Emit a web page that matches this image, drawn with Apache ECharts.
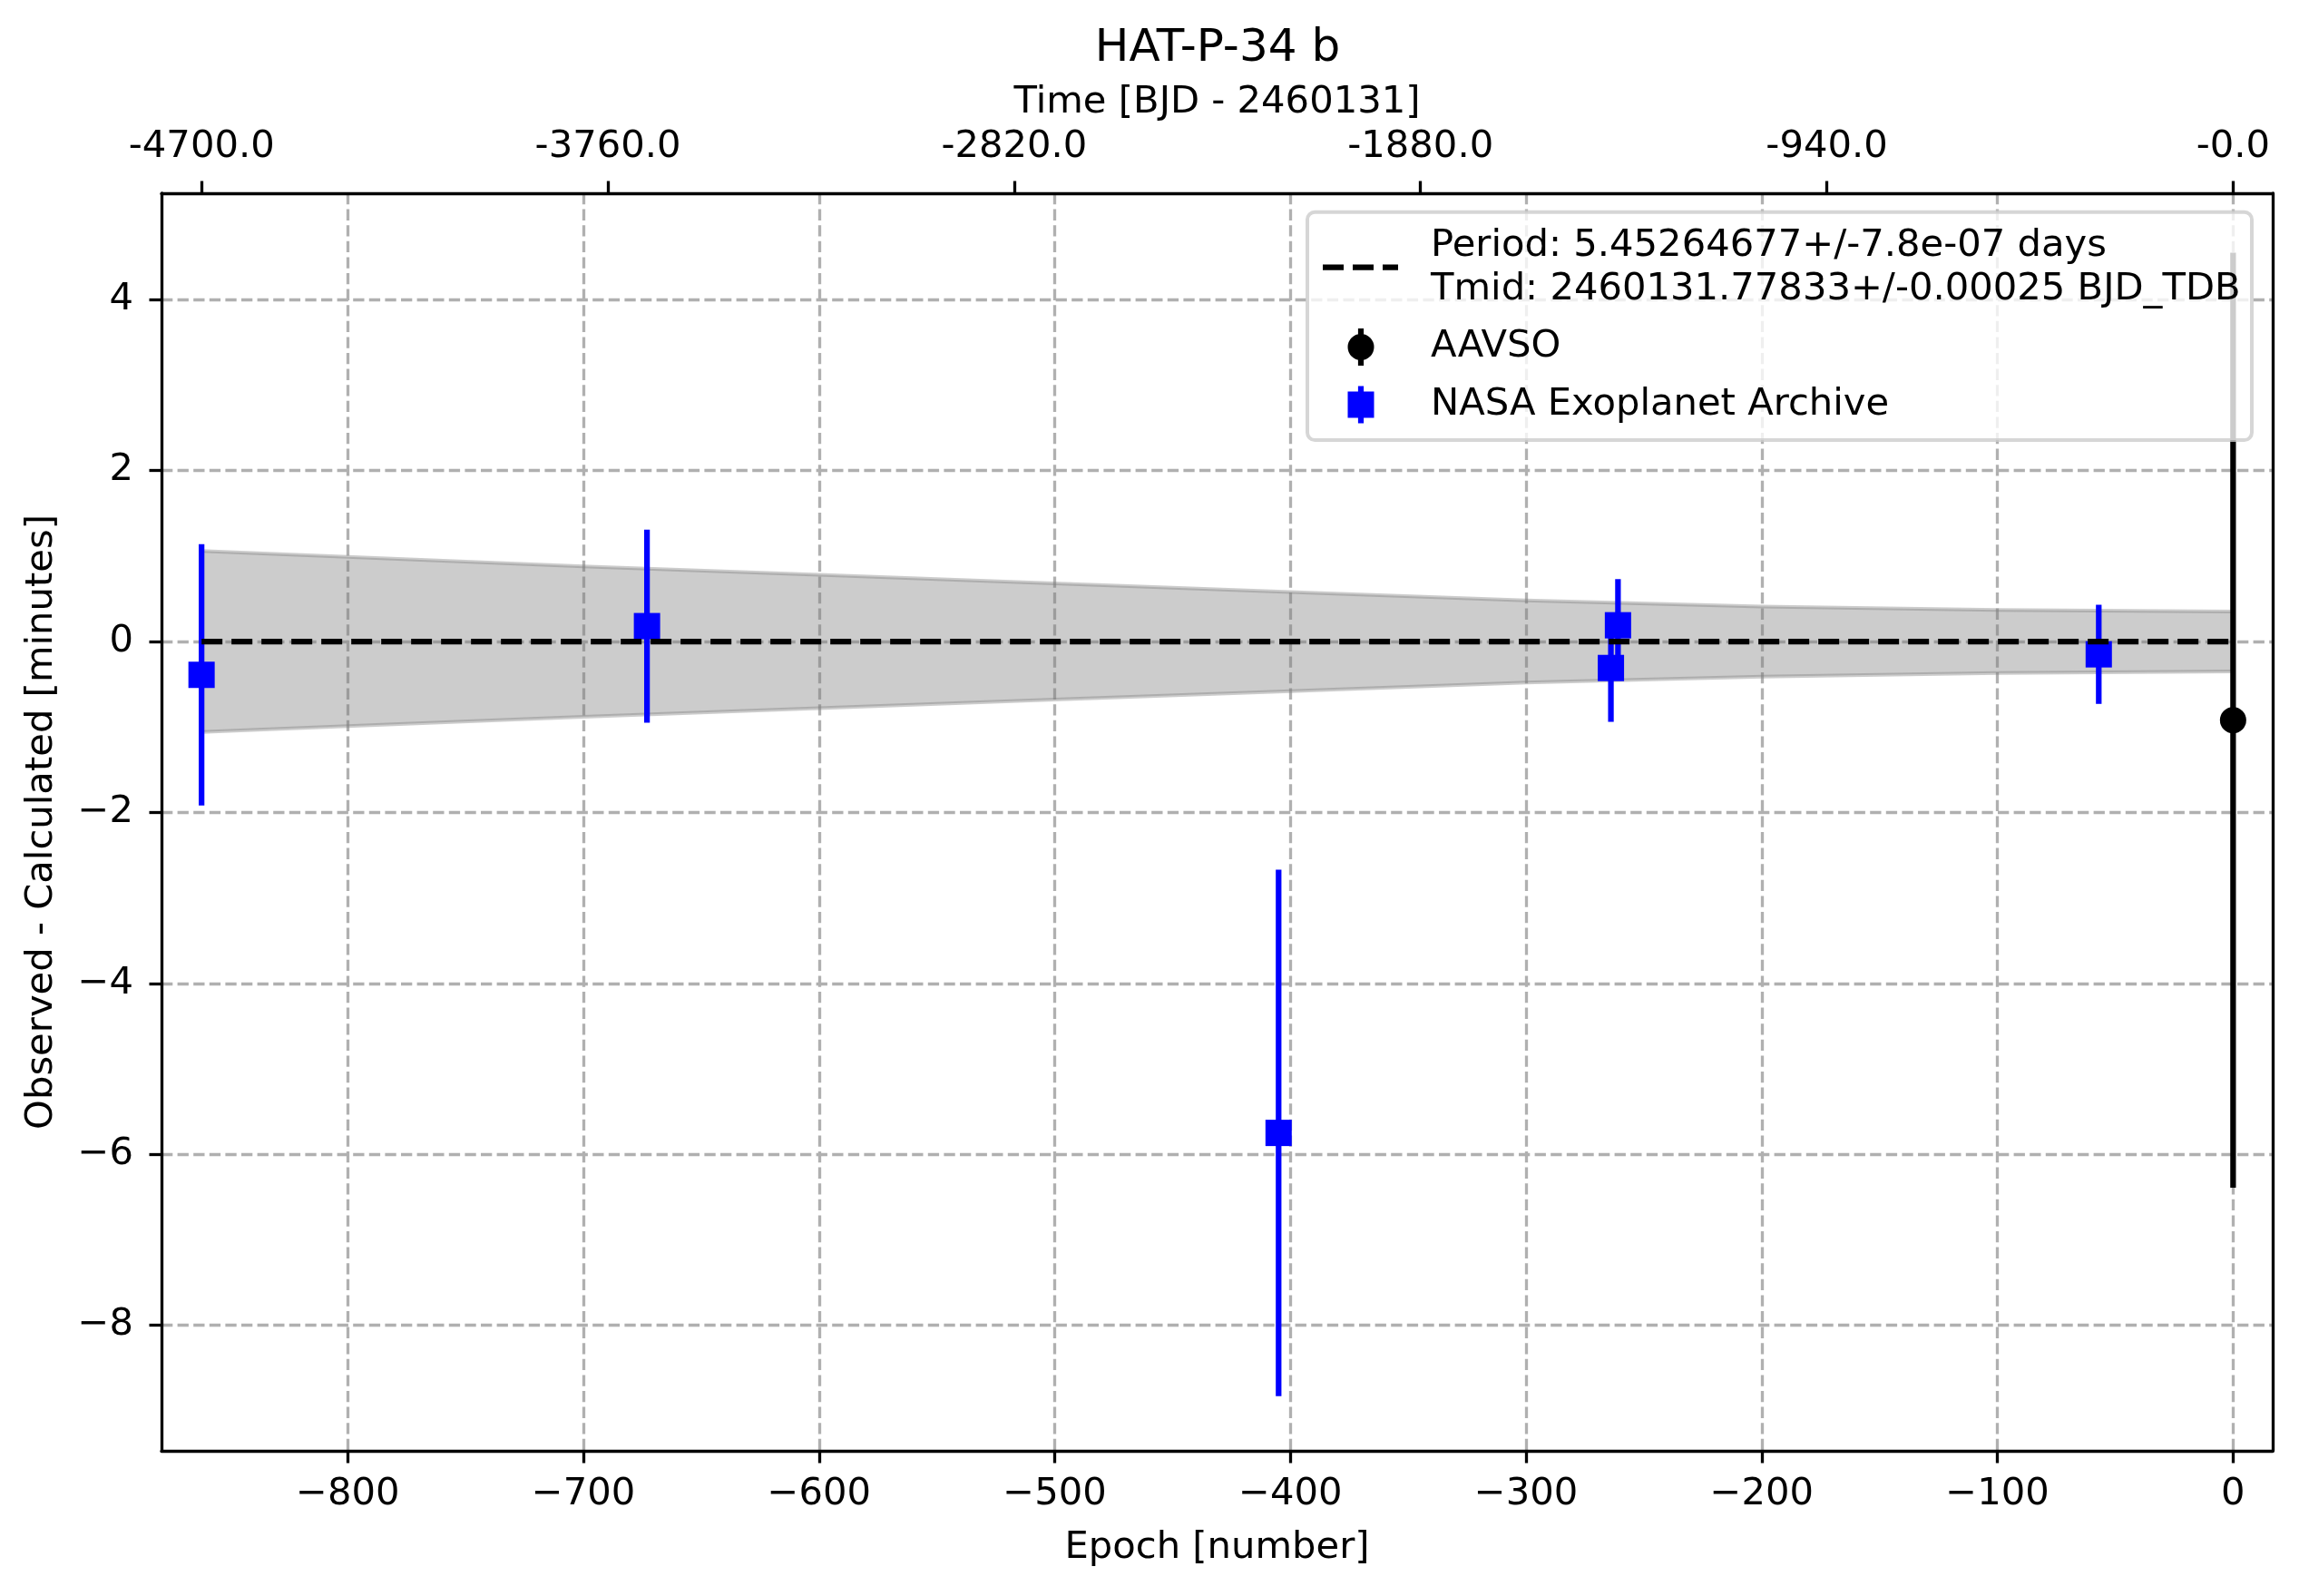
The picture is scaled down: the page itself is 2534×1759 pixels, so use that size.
<!DOCTYPE html>
<html>
<head>
<meta charset="utf-8">
<title>HAT-P-34 b O-C</title>
<script src="https://cdn.jsdelivr.net/npm/echarts@6/dist/echarts.min.js"></script>
<style>
  html, body { margin: 0; padding: 0; background: #fff; }
  #chart { width: 2534px; height: 1759px; }
</style>
</head>
<body>
<div id="chart"></div>
<script>
// ticks of the three axes
const epochTicks = [-800, -700, -600, -500, -400, -300, -200, -100, 0];
const epochTickLabels = ['\u2212800', '\u2212700', '\u2212600', '\u2212500', '\u2212400', '\u2212300', '\u2212200', '\u2212100', '0'];
const timeTicks = [-4700, -3760, -2820, -1880, -940, 0];
const timeTickLabels = ['-4700.0', '-3760.0', '-2820.0', '-1880.0', '-940.0', '-0.0'];
const ocTicks = [-8, -6, -4, -2, 0, 2, 4];
const ocTickLabels = ['\u22128', '\u22126', '\u22124', '\u22122', '0', '2', '4'];

// fit
const period = 5.45264677;
const fitLabel = 'Period: 5.45264677+/-7.8e-07 days\nTmid: 2460131.77833+/-0.00025 BJD_TDB';
const zeroEpochs = [-862, 0];
const zeroValues = [0, 0];

// uncertainty band (minutes)
const bandEpochs = [-862, -800, -700, -600, -500, -400, -300, -200, -100, 0];
const bandUpper = [1.06, 0.99, 0.88, 0.78, 0.68, 0.58, 0.48, 0.41, 0.37, 0.35];
const bandLower = [-1.06, -0.99, -0.88, -0.78, -0.68, -0.58, -0.48, -0.41, -0.37, -0.35];

// observations
const nasaEpochs = [-862, -673, -405, -264, -261, -57];
const nasaOC = [-0.39, 0.18, -5.75, -0.31, 0.19, -0.15];
const nasaErr = [1.53, 1.13, 3.08, 0.63, 0.54, 0.58];

const aavsoEpochs = [0];
const aavsoOC = [-0.92];
const aavsoErr = [5.47];

const xMin = -879, xMax = 16.8;
const yMin = -9.47, yMax = 5.245;

const FONT = 'DejaVu Sans';
const FS = 41.7;

function errorBarRenderer(color) {
  return function (params, api) {
    const x = api.value(0), y = api.value(1), e = api.value(2);
    const top = api.coord([x, y + e]);
    const bot = api.coord([x, y - e]);
    return {
      type: 'line',
      shape: { x1: top[0], y1: top[1], x2: bot[0], y2: bot[1] },
      style: { stroke: color, lineWidth: 6.25 }
    };
  };
}

function bandRenderer(params, api) {
  if (params.dataIndex !== 0) return null;
  const up = bandEpochs.map((e, i) => api.coord([e, bandUpper[i]]));
  const lo = bandEpochs.map((e, i) => api.coord([e, bandLower[i]]));
  const poly = up.concat(lo.slice().reverse());
  return {
    type: 'group',
    children: [
      { type: 'polygon', shape: { points: poly }, style: { fill: 'rgba(128,128,128,0.4)', stroke: null } },
      { type: 'polyline', shape: { points: up }, style: { stroke: 'rgba(128,128,128,0.4)', lineWidth: 4, fill: null } },
      { type: 'polyline', shape: { points: lo }, style: { stroke: 'rgba(128,128,128,0.4)', lineWidth: 4, fill: null } }
    ]
  };
}

const zeroData = zeroEpochs.map((e, i) => [e, zeroValues[i]]);
const bandData = bandEpochs.map((e, i) => [e, bandLower[i], bandUpper[i]]);
const nasaData = nasaEpochs.map((e, i) => [e, nasaOC[i], nasaErr[i]]);
const aavsoData = aavsoEpochs.map((e, i) => [e, aavsoOC[i], aavsoErr[i]]);

const axisLine = { show: true, onZero: false, lineStyle: { color: '#000', width: 3.3 } };
const axisTick = { show: true, inside: false, length: 13.5, lineStyle: { color: '#000', width: 3.3 } };
const gridLine = { show: true, lineStyle: { color: '#b0b0b0', width: 3.3, type: [12.3, 5.3] } };

// legend icons (path boxes match itemWidth x itemHeight)
const dashIcon = 'path://M0 0L23 0L23 6.25L0 6.25Z M33 0L56 0L56 6.25L33 6.25Z M66 0L83 0L83 6.25L66 6.25Z';
const circleBarIcon = 'path://M0 20.5A14.5 14.5 0 1 1 29 20.5A14.5 14.5 0 1 1 0 20.5Z M11.4 0L17.6 0L17.6 41L11.4 41Z';
const squareBarIcon = 'path://M0 6L29 6L29 35L0 35Z M11.4 0L17.6 0L17.6 41L11.4 41Z';

const legendText = { fontFamily: FONT, fontSize: FS, color: '#000', lineHeight: 48 };

const chart = echarts.init(document.getElementById('chart'), null, { renderer: 'canvas' });

const option = {
  animation: false,
  backgroundColor: '#fff',
  textStyle: { fontFamily: FONT },
  title: {
    text: 'HAT-P-34 b',
    left: 1342,
    top: 29,
    padding: 0,
    textAlign: 'center',
    textStyle: { fontFamily: FONT, fontSize: 50, fontWeight: 'normal', color: '#000' }
  },
  grid: { left: 178, right: 29, top: 213, bottom: 160, containLabel: false, outerBoundsMode: 'none' },
  xAxis: [
    {
      type: 'value', position: 'bottom', min: xMin, max: xMax,
      axisLine: axisLine,
      axisTick: Object.assign({ customValues: epochTicks }, axisTick),
      axisLabel: {
        customValues: epochTicks, margin: 27, fontFamily: FONT, fontSize: FS, color: '#000',
        formatter: v => epochTickLabels[epochTicks.indexOf(v)]
      },
      splitLine: gridLine,
      name: 'Epoch [number]', nameLocation: 'middle', nameGap: 86,
      nameTextStyle: { fontFamily: FONT, fontSize: FS, color: '#000' }
    },
    {
      type: 'value', position: 'top', min: xMin * period, max: xMax * period,
      axisLine: axisLine,
      axisTick: Object.assign({ customValues: timeTicks }, axisTick),
      axisLabel: {
        customValues: timeTicks, margin: 30, fontFamily: FONT, fontSize: FS, color: '#000',
        formatter: v => timeTickLabels[timeTicks.indexOf(v)]
      },
      splitLine: { show: false },
      name: 'Time [BJD - 2460131]', nameLocation: 'middle', nameGap: 79,
      nameTextStyle: { fontFamily: FONT, fontSize: FS, color: '#000' }
    }
  ],
  yAxis: [
    {
      type: 'value', position: 'left', min: yMin, max: yMax,
      axisLine: axisLine,
      axisTick: Object.assign({ customValues: ocTicks }, axisTick),
      axisLabel: {
        customValues: ocTicks, margin: 31, fontFamily: FONT, fontSize: FS, color: '#000',
        formatter: v => ocTickLabels[ocTicks.indexOf(v)]
      },
      splitLine: gridLine,
      name: 'Observed - Calculated [minutes]', nameLocation: 'middle', nameGap: 111,
      nameTextStyle: { fontFamily: FONT, fontSize: FS, color: '#000' }
    },
    {
      type: 'value', position: 'right', min: yMin, max: yMax,
      axisLine: axisLine,
      axisTick: { show: false },
      axisLabel: { show: false },
      splitLine: { show: false }
    }
  ],
  legend: [
    {
      z: 10, left: 1458, top: 246.7, padding: 0, selectedMode: false, orient: 'vertical',
      itemWidth: 83, itemHeight: 6.25,
      textStyle: Object.assign({ padding: [0, 0, 0, 31] }, legendText),
      data: [{ name: fitLabel, icon: dashIcon, itemStyle: { color: '#000', borderWidth: 0 } }]
    },
    {
      z: 10, left: 1485.5, top: 358.5, padding: 0, selectedMode: false, orient: 'vertical',
      itemWidth: 29, itemHeight: 41,
      textStyle: Object.assign({ padding: [0, 0, 0, 57.5] }, legendText),
      data: [{ name: 'AAVSO', icon: circleBarIcon, itemStyle: { color: '#000', borderWidth: 0 } }]
    },
    {
      z: 10, left: 1485.5, top: 422, padding: 0, selectedMode: false, orient: 'vertical',
      itemWidth: 29, itemHeight: 41,
      textStyle: Object.assign({ padding: [0, 0, 0, 57.5] }, legendText),
      data: [{ name: 'NASA Exoplanet Archive', icon: squareBarIcon, itemStyle: { color: '#0000ff', borderWidth: 0 } }]
    }
  ],
  graphic: [
    {
      type: 'rect', z: 3,
      shape: { x: 1441, y: 233.7, width: 1041, height: 251.3, r: 8.3 },
      style: { fill: 'rgba(255,255,255,0.8)', stroke: 'rgba(204,204,204,0.8)', lineWidth: 4 }
    }
  ],
  series: [
    {
      name: 'band', type: 'custom', xAxisIndex: 0, yAxisIndex: 0,
      renderItem: bandRenderer, encode: { x: 0, y: [1, 2] }, data: bandData, silent: true
    },
    {
      name: fitLabel, type: 'line', xAxisIndex: 0, yAxisIndex: 0, data: zeroData,
      symbol: 'none', color: '#000',
      lineStyle: { color: '#000', width: 6.25, type: [23, 10] }
    },
    {
      name: 'NASA Exoplanet Archive', type: 'custom', xAxisIndex: 0, yAxisIndex: 0,
      renderItem: errorBarRenderer('#0000ff'), encode: { x: 0, y: 1 }, data: nasaData, color: '#0000ff'
    },
    {
      name: 'NASA Exoplanet Archive', type: 'scatter', xAxisIndex: 0, yAxisIndex: 0,
      data: nasaEpochs.map((e, i) => [e, nasaOC[i]]),
      symbol: 'rect', symbolSize: 29, itemStyle: { color: '#0000ff', opacity: 1 }
    },
    {
      name: 'AAVSO', type: 'custom', xAxisIndex: 0, yAxisIndex: 0,
      renderItem: errorBarRenderer('#000000'), encode: { x: 0, y: 1 }, data: aavsoData, color: '#000'
    },
    {
      name: 'AAVSO', type: 'scatter', xAxisIndex: 0, yAxisIndex: 0,
      data: aavsoEpochs.map((e, i) => [e, aavsoOC[i]]),
      symbol: 'circle', symbolSize: 29, itemStyle: { color: '#000', opacity: 1 }
    }
  ]
};

chart.setOption(option);
</script>
</body>
</html>
